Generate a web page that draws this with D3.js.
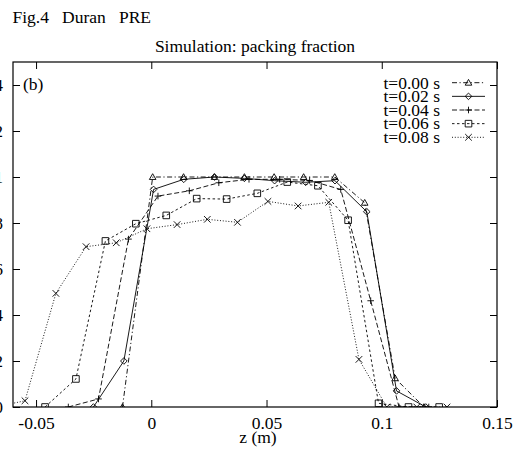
<!DOCTYPE html>
<html lang="en">
  <head>
    <meta charset="utf-8">
    <title>Packing fraction</title>
    <script src="https://cdn.jsdelivr.net/npm/d3@7"></script>
    <style type="text/css">
      body { margin: 0; background: #fff; }
      text { font-family: "Liberation Serif", "DejaVu Serif", serif; fill: #000; }
      .curve { fill: none; stroke: #000; stroke-width: 0.9px; }
      .mark { fill: none; stroke: #000; stroke-width: 0.9px; }
    </style>
  </head>
  <body>
    <script>
      // data: z (m) and packing fraction
      var z000 = [-0.0125, 0.0006, 0.0140, 0.0274, 0.0404, 0.0533, 0.0661, 0.0796, 0.0926, 0.1058, 0.1183];
      var pf000 = [0, 1.0, 1.0, 1.0, 1.0, 1.0, 1.0, 1.0, 0.888, 0.125, 0];

      var z002 = [-0.0251, -0.0119, 0.0010, 0.0141, 0.0274, 0.0404, 0.0535, 0.0670, 0.0797, 0.0935, 0.1064, 0.1191];
      var pf002 = [0, 0.20, 0.946, 0.99, 1.0, 0.994, 0.984, 0.977, 0.984, 0.849, 0.07, 0];

      var z004 = [-0.0360, -0.0229, -0.0099, 0.0029, 0.0165, 0.0293, 0.0424, 0.0557, 0.0687, 0.0822, 0.0952, 0.1075, 0.1204];
      var pf004 = [0, 0.035, 0.73, 0.917, 0.94, 0.975, 0.99, 0.99, 0.985, 0.946, 0.462, 0, 0];

      var z006 = [-0.0461, -0.0327, -0.0199, -0.0067, 0.0065, 0.0197, 0.0327, 0.0460, 0.0590, 0.0723, 0.0854, 0.0986, 0.1116, 0.1249];
      var pf006 = [0, 0.122, 0.722, 0.797, 0.833, 0.906, 0.904, 0.929, 0.978, 0.962, 0.812, 0.016, 0, 0];

      var z008 = [-0.0678, -0.0548, -0.0414, -0.0283, -0.0152, -0.0019, 0.0112, 0.0243, 0.0374, 0.0506, 0.0637, 0.0770, 0.0901, 0.1022, 0.1152, 0.1283];
      var pf008 = [0, 0.027, 0.494, 0.697, 0.714, 0.775, 0.793, 0.816, 0.803, 0.894, 0.874, 0.89, 0.207, 0, 0, 0];

      var seriesLabels = ["t=0.00 s", "t=0.02 s", "t=0.04 s", "t=0.06 s", "t=0.08 s"];

      var xTicks = [-0.05, 0, 0.05, 0.1, 0.15];
      var xTickLabels = ["-0.05", "0", "0.05", "0.1", "0.15"];
      var yTicks = [0, 0.2, 0.4, 0.6, 0.8, 1, 1.2, 1.4];
      var yTickLabels = ["0", "0.2", "0.4", "0.6", "0.8", "1", "1.2", "1.4"];

      var w = 528, h = 450;
      var pLeft = 13, pRight = 497, pTop = 62, pBottom = 407;
      var fs = "17.5px";

      var svg = d3.select("body").append("svg")
          .attr("width", w).attr("height", h);

      var xScale = d3.scaleLinear().domain([-0.06, 0.15]).range([pLeft, pRight]);
      var yScale = d3.scaleLinear().domain([0, 1.5]).range([pBottom, pTop]);

      // gnuplot-like hollow point shapes
      var s = 3.3;
      var shapes = {
        triangle: "M0," + (-s) + "L" + s + "," + (s * 0.75) + "L" + (-s) + "," + (s * 0.75) + "Z",
        diamond: "M0," + (-s) + "L" + s + ",0L0," + s + "L" + (-s) + ",0Z",
        plus: "M" + (-s) + ",0H" + s + "M0," + (-s) + "V" + s,
        square: "M" + (-s) + "," + (-s) + "H" + s + "V" + s + "H" + (-s) + "Z",
        cross: "M" + (-s) + "," + (-s) + "L" + s + "," + s + "M" + s + "," + (-s) + "L" + (-s) + "," + s
      };

      var series = [
        { label: seriesLabels[0], z: z000, v: pf000, dash: "5,2.5,1.2,2.5", shape: "triangle" },
        { label: seriesLabels[1], z: z002, v: pf002, dash: null, shape: "diamond" },
        { label: seriesLabels[2], z: z004, v: pf004, dash: "5,2.5", shape: "plus" },
        { label: seriesLabels[3], z: z006, v: pf006, dash: "2.5,2.5", shape: "square" },
        { label: seriesLabels[4], z: z008, v: pf008, dash: "1,1.8", shape: "cross" }
      ];

      svg.append("clipPath").attr("id", "plotclip")
        .append("rect")
        .attr("x", pLeft).attr("y", pTop)
        .attr("width", pRight - pLeft).attr("height", pBottom - pTop);

      // top texts
      svg.append("text")
        .attr("x", 12.5).attr("y", 23)
        .attr("font-size", fs)
        .style("white-space", "pre")
        .text("Fig.4   Duran   PRE");

      svg.append("text")
        .attr("x", (pLeft + pRight) / 2).attr("y", 51.5)
        .attr("text-anchor", "middle")
        .attr("font-size", fs)
        .text("Simulation: packing fraction");

      // axes, ticks pointing inward
      svg.append("g").attr("transform", "translate(0," + pBottom + ")")
        .call(d3.axisBottom(xScale).tickValues(xTicks)
          .tickSize(-7).tickPadding(10)
          .tickFormat((d, i) => xTickLabels[i]));
      svg.append("g").attr("transform", "translate(0," + pTop + ")")
        .call(d3.axisTop(xScale).tickValues(xTicks).tickSize(-7).tickFormat(""));
      svg.append("g").attr("transform", "translate(" + pLeft + ",0)")
        .call(d3.axisLeft(yScale).tickValues(yTicks)
          .tickSize(-7).tickPadding(10)
          .tickFormat((d, i) => yTickLabels[i]));
      svg.append("g").attr("transform", "translate(" + pRight + ",0)")
        .call(d3.axisRight(yScale).tickValues(yTicks).tickSize(-7).tickFormat(""));

      svg.selectAll(".domain").remove();
      svg.selectAll(".tick line").attr("stroke", "#000").attr("stroke-width", 1);
      svg.selectAll(".tick text")
        .attr("font-family", "Liberation Serif")
        .attr("font-size", fs)
        .attr("fill", "#000");

      svg.append("rect")
        .attr("x", pLeft).attr("y", pTop)
        .attr("width", pRight - pLeft).attr("height", pBottom - pTop)
        .attr("fill", "none").attr("stroke", "#000").attr("stroke-width", 1.2);

      svg.append("text")
        .attr("x", (pLeft + pRight) / 2 + 3).attr("y", 443)
        .attr("text-anchor", "middle")
        .attr("font-size", fs)
        .text("z (m)");

      svg.append("text")
        .attr("x", 23).attr("y", 89.5)
        .attr("font-size", fs)
        .text("(b)");

      // curves
      var line = d3.line()
        .x(d => xScale(d[0]))
        .y(d => yScale(d[1]));

      var plot = svg.append("g").attr("clip-path", "url(#plotclip)");

      series.forEach(function (sr) {
        var pts = sr.z.map((z, i) => [z, sr.v[i]]);
        plot.append("path")
          .datum(pts)
          .attr("class", "curve")
          .attr("d", line)
          .attr("stroke-dasharray", sr.dash);
        plot.selectAll(null)
          .data(pts)
          .enter().append("path")
          .attr("class", "mark")
          .attr("d", shapes[sr.shape])
          .attr("transform", d => "translate(" + xScale(d[0]) + "," + yScale(d[1]) + ")");
      });

      // legend
      var legTextX = 440, legX1 = 452, legX2 = 485, legY0 = 82.7, legDy = 13.65;
      series.forEach(function (sr, i) {
        var yy = legY0 + i * legDy;
        svg.append("text")
          .attr("x", legTextX).attr("y", yy + 5.8)
          .attr("text-anchor", "end")
          .attr("font-size", fs)
          .text(sr.label);
        svg.append("line")
          .attr("class", "curve")
          .attr("x1", legX1).attr("x2", legX2)
          .attr("y1", yy).attr("y2", yy)
          .attr("stroke-dasharray", sr.dash);
        svg.append("path")
          .attr("class", "mark")
          .attr("d", shapes[sr.shape])
          .attr("transform", "translate(" + ((legX1 + legX2) / 2) + "," + yy + ")");
      });
    </script>
  </body>
</html>
